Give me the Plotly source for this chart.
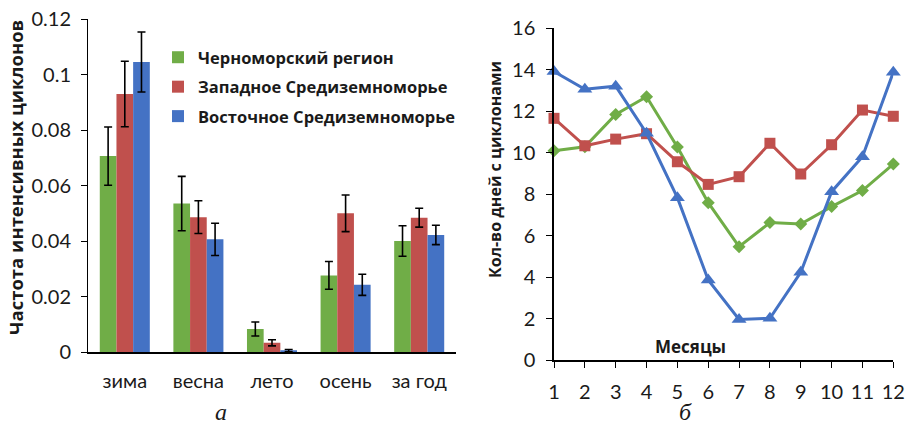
import plotly.graph_objects as go

# --- Panel (а): frequency of intense cyclones by season ---
seasons = ["зима", "весна", "лето", "осень", "за год"]
series_names = ["Черноморский регион", "Западное Средиземноморье", "Восточное Средиземноморье"]
black_sea = [0.0707, 0.0536, 0.0084, 0.0277, 0.0401]
west_med = [0.0931, 0.0487, 0.0034, 0.0501, 0.0485]
east_med = [0.1046, 0.0407, 0.0006, 0.0243, 0.0423]
black_sea_err = [0.0105, 0.0098, 0.0025, 0.0050, 0.0055]
west_med_err = [0.0118, 0.0059, 0.0011, 0.0066, 0.0034]
east_med_err = [0.0108, 0.0058, 0.0004, 0.0038, 0.0035]

# --- Panel (б): number of days with cyclones by month ---
months = list(range(1, 13))
days_black_sea = [10.09, 10.28, 11.84, 12.69, 10.27, 7.59, 5.47, 6.63, 6.56, 7.40, 8.17, 9.45]
days_west_med = [11.65, 10.33, 10.65, 10.91, 9.56, 8.47, 8.84, 10.45, 8.97, 10.38, 12.05, 11.75]
days_east_med = [13.90, 13.05, 13.20, 10.93, 7.83, 3.87, 1.97, 2.02, 4.24, 8.12, 9.80, 13.87]

GREEN = "#70AD47"
RED = "#C0504D"
BLUE = "#4472C4"
FONT = "Lato, Carlito, Calibri, sans-serif"
BOLD_FONT = "Open Sans, Lato, sans-serif"
SERIF = "Liberation Serif, Times New Roman, serif"
TEXT = "#1a1a1a"

W, H = 907, 427

fig = go.Figure()

bar_sets = [
    (black_sea, black_sea_err, GREEN),
    (west_med, west_med_err, RED),
    (east_med, east_med_err, BLUE),
]
for i, (vals, errs, col) in enumerate(bar_sets):
    fig.add_trace(go.Bar(
        x=seasons, y=vals, name=series_names[i],
        marker=dict(color=col, line=dict(width=0)),
        error_y=dict(type="data", array=errs, color="black", thickness=1.6, width=4),
        xaxis="x", yaxis="y", legendgroup=f"g{i}",
    ))

line_sets = [
    (days_black_sea, GREEN, "diamond", 10),
    (days_west_med, RED, "square", 11),
    (days_east_med, BLUE, "triangle-up", 13),
]
for i, (vals, col, sym, sz) in enumerate(line_sets):
    fig.add_trace(go.Scatter(
        x=months, y=vals, mode="lines+markers", name=series_names[i],
        line=dict(color=col, width=3),
        marker=dict(symbol=sym, size=sz, color=col),
        xaxis="x2", yaxis="y2", showlegend=False, cliponaxis=False,
    ))


def px_x(p):
    return p / W


def px_y(p):
    return 1 - p / H


tick_font = dict(family=FONT, size=20, color=TEXT)

fig.update_layout(
    width=W, height=H,
    margin=dict(l=0, r=0, t=0, b=0, autoexpand=False),
    paper_bgcolor="white", plot_bgcolor="white",
    barmode="group", bargap=0.32, bargroupgap=0,
    font=dict(family=FONT, color=TEXT),
    xaxis=dict(
        domain=[px_x(88), px_x(456)], anchor="y", automargin=False,
        type="category", range=[-0.5, 4.5],
        showline=True, linecolor="black", linewidth=1.5,
        ticks="", showgrid=False, tickfont=tick_font, ticklabelstandoff=10,
    ),
    yaxis=dict(
        domain=[px_y(352.3), px_y(19.3)], anchor="x", automargin=False,
        range=[0, 0.12], dtick=0.02,
        showline=True, linecolor="black", linewidth=1,
        ticks="outside", ticklen=6, tickcolor="black",
        showgrid=False, zeroline=False, tickfont=tick_font, ticklabelstandoff=6,
    ),
    xaxis2=dict(
        domain=[px_x(554), px_x(893.3)], anchor="y2", automargin=False,
        range=[1, 12], dtick=1,
        showline=True, linecolor="black", linewidth=1.5,
        ticks="outside", ticklen=6, tickcolor="black",
        showgrid=False, zeroline=False, tickfont=tick_font, ticklabelstandoff=7,
    ),
    yaxis2=dict(
        domain=[px_y(360.3), px_y(28)], anchor="x2", automargin=False,
        range=[0, 16], dtick=2,
        showline=True, linecolor="black", linewidth=1.5,
        ticks="outside", ticklen=6, tickcolor="black",
        showgrid=False, zeroline=False, tickfont=tick_font, ticklabelstandoff=7,
    ),
    legend=dict(
        x=px_x(158), y=px_y(40), xanchor="left", yanchor="top",
        bgcolor="rgba(0,0,0,0)",
        font=dict(family=BOLD_FONT, size=16.5, color=TEXT, weight="bold"),
        tracegroupgap=5, itemwidth=30,
    ),
)

fig.add_annotation(
    text="Частота интенсивных циклонов", textangle=-90,
    xref="paper", yref="paper", x=px_x(15), y=px_y(178),
    xanchor="center", yanchor="middle",
    showarrow=False, font=dict(family=BOLD_FONT, size=18.5, weight="bold", color=TEXT),
)
fig.add_annotation(
    text="Кол-во дней с циклонами", textangle=-90,
    xref="paper", yref="paper", x=px_x(495), y=px_y(170),
    xanchor="center", yanchor="middle",
    showarrow=False, font=dict(family=BOLD_FONT, size=16, weight="bold", color=TEXT),
)
fig.add_annotation(
    text="Месяцы", xref="paper", yref="paper", x=px_x(690), y=px_y(346),
    xanchor="center", yanchor="middle",
    showarrow=False, font=dict(family=BOLD_FONT, size=17, weight="bold", color=TEXT),
)
fig.add_annotation(
    text="<i>а</i>", xref="paper", yref="paper", x=px_x(221), y=0,
    xanchor="center", yanchor="bottom",
    showarrow=False, font=dict(family=SERIF, size=24, color=TEXT),
)
fig.add_annotation(
    text="<i>б</i>", xref="paper", yref="paper", x=px_x(685), y=0,
    xanchor="center", yanchor="bottom",
    showarrow=False, font=dict(family=SERIF, size=24, color=TEXT),
)

fig.write_html("out.html")
